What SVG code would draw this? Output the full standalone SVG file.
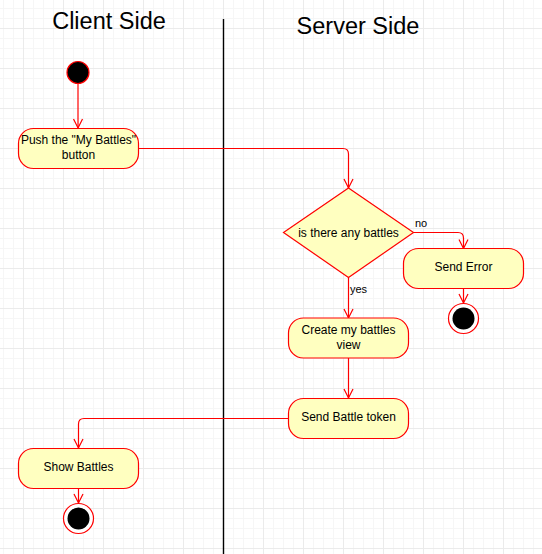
<svg xmlns="http://www.w3.org/2000/svg" width="542" height="554" viewBox="0 0 542 554">
<style>
.node{fill:#ffffc0;stroke:#ff0000;stroke-width:1.2}
.lbl{font-family:"Liberation Sans",Arial,sans-serif;font-size:12px;fill:#000;text-anchor:middle}
.small{font-family:"Liberation Sans",Arial,sans-serif;font-size:11px;fill:#000}
.title{font-family:"Liberation Sans",Arial,sans-serif;font-size:23.5px;fill:#000;text-anchor:middle}
.conn{fill:none;stroke:#ff0000;stroke-width:1.2;marker-end:url(#arr)}
</style>
<defs>
<pattern id="grid" patternUnits="userSpaceOnUse" x="23" y="28" width="40" height="40">
<rect width="40" height="40" fill="#ffffff"/>
<rect x="10" y="0" width="1" height="40" fill="#f6f6f6"/>
<rect x="20" y="0" width="1" height="40" fill="#f6f6f6"/>
<rect x="30" y="0" width="1" height="40" fill="#f6f6f6"/>
<rect x="0" y="10" width="40" height="1" fill="#f6f6f6"/>
<rect x="0" y="20" width="40" height="1" fill="#f6f6f6"/>
<rect x="0" y="30" width="40" height="1" fill="#f6f6f6"/>
<rect x="0" y="0" width="1" height="40" fill="#ebebeb"/>
<rect x="0" y="0" width="40" height="1" fill="#ebebeb"/>
</pattern>
<marker id="arr" markerUnits="userSpaceOnUse" viewBox="-10 -6 12 12" refX="0" refY="0" markerWidth="12" markerHeight="12" orient="auto">
<path d="M-9,-4.5 L0,0 L-9,4.5" fill="none" stroke="#ff0000" stroke-width="1.2"/>
</marker>
</defs>
<rect width="542" height="554" fill="url(#grid)"/>
<text class="title" x="109" y="29">Client Side</text>
<text class="title" x="358" y="34">Server Side</text>
<line x1="223.5" y1="19" x2="223.5" y2="554" stroke="#000" stroke-width="1.4"/>

<g id="connectors">
<path class="conn" d="M78,84 L78,128"/>
<path class="conn" d="M138.5,148.5 L343,148.5 Q348.5,148.5 348.5,154 L348.5,188"/>
<path class="conn" d="M413,232.5 L458,232.5 Q463.5,232.5 463.5,238 L463.5,248.5"/>
<path class="conn" d="M463.5,288.5 L463.5,303"/>
<path class="conn" d="M348.5,277.5 L348.5,318"/>
<path class="conn" d="M348.5,358 L348.5,398"/>
<path class="conn" d="M288.5,418.5 L84,418.5 Q78.5,418.5 78.5,424 L78.5,448"/>
<path class="conn" d="M78.5,488.5 L78.5,503"/>
<text class="small" x="415" y="227">no</text>
<text class="small" x="350" y="293">yes</text>
</g>

<g id="start"><circle cx="78" cy="72.5" r="11" fill="#000" stroke="#ff0000" stroke-width="1.2"/></g>
<g id="push">
<rect class="node" x="18.5" y="128.5" width="120" height="40" rx="15"/>
<text class="lbl" x="78.5" y="143.5">Push the "My Battles"</text>
<text class="lbl" x="78.5" y="158.5">button</text>
</g>
<g id="decision">
<polygon class="node" points="348.5,188 413.5,232.5 348.5,277.5 283.5,232.5"/>
<text class="lbl" x="348.5" y="236.5">is there any battles</text>
</g>
<g id="senderror">
<rect class="node" x="403.5" y="248.5" width="120" height="40" rx="15"/>
<text class="lbl" x="463.5" y="271">Send Error</text>
</g>
<g id="end1">
<circle cx="463.5" cy="318.5" r="15" fill="#fff" stroke="#ff0000" stroke-width="1.2"/>
<circle cx="463.5" cy="318.5" r="11" fill="#000"/>
</g>
<g id="create">
<rect class="node" x="288.5" y="318" width="120" height="40" rx="15"/>
<text class="lbl" x="348.5" y="334">Create my battles</text>
<text class="lbl" x="348.5" y="349">view</text>
</g>
<g id="sendtoken">
<rect class="node" x="288.5" y="398.5" width="120" height="40" rx="15"/>
<text class="lbl" x="348.5" y="421">Send Battle token</text>
</g>
<g id="show">
<rect class="node" x="18.5" y="448.5" width="120" height="40" rx="15"/>
<text class="lbl" x="78.5" y="471">Show Battles</text>
</g>
<g id="end2">
<circle cx="78.5" cy="518.5" r="15" fill="#fff" stroke="#ff0000" stroke-width="1.2"/>
<circle cx="78.5" cy="518.5" r="11" fill="#000"/>
</g>
</svg>
